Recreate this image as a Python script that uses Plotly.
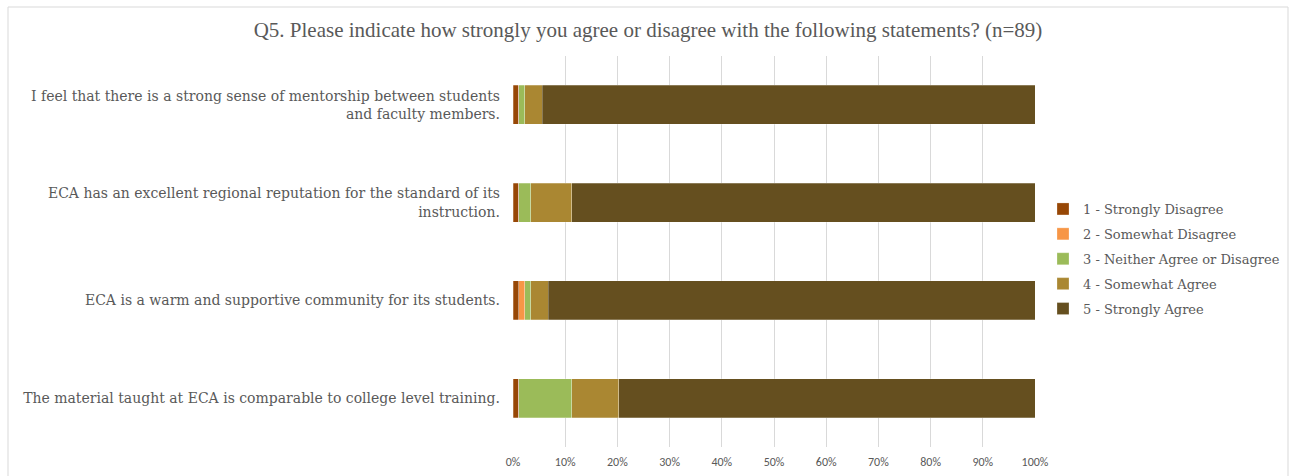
import plotly.graph_objects as go

# Survey responses (counts out of n=89), statements listed top to bottom
statements = [
    "I feel that there is a strong sense of mentorship between students<br>and faculty members.",
    "ECA has an excellent regional reputation for the standard of its<br>instruction.",
    "ECA is a warm and supportive community for its students.",
    "The material taught at ECA is comparable to college level training.",
]
n_resp = 89
strongly_disagree = [1, 1, 1, 1]
somewhat_disagree = [0, 0, 1, 0]
neither = [1, 2, 1, 9]
somewhat_agree = [3, 7, 3, 8]
strongly_agree = [84, 79, 83, 71]

series_names = [
    "1 - Strongly Disagree",
    "2 - Somewhat Disagree",
    "3 - Neither Agree or Disagree",
    "4 - Somewhat Agree",
    "5 - Strongly Agree",
]
series_values = [strongly_disagree, somewhat_disagree, neither, somewhat_agree, strongly_agree]
colors = ["#974706", "#F79646", "#9BBB59", "#AA8732", "#654F1F"]

x_ticks = [i / 10 for i in range(11)]
x_tick_labels = [f"{i * 10}%" for i in range(11)]

W, H = 1291, 476
L, T, B = 513, 56, 29
PW = W - L                 # paper width (right margin 0)
PH = H - T - B             # paper height
plot_w = 522               # width of the bar area

fig = go.Figure()
for name, vals, col in zip(series_names, series_values, colors):
    fig.add_trace(go.Bar(
        y=statements,
        x=[v / n_resp for v in vals],
        name=name,
        legendgroup=name,
        orientation="h",
        marker=dict(color=col, line=dict(color="rgba(255,255,255,0.5)", width=0.5)),
        width=0.40,
    ))

serif = "DejaVu Serif, Georgia, serif"
fig.update_layout(
    barmode="stack",
    width=W,
    height=H,
    paper_bgcolor="white",
    plot_bgcolor="white",
    margin=dict(l=L, r=0, t=T, b=B, autoexpand=False),
    title=dict(
        text="Q5. Please indicate how strongly you agree or disagree with the following statements? (n=89)",
        x=648 / W, xanchor="center", xref="container",
        y=1 - 30 / H, yanchor="middle", yref="container",
        font=dict(family="Liberation Serif, serif", size=21, color="#595959"),
    ),
    xaxis=dict(
        domain=[0, plot_w / PW],
        range=[0, 1],
        tickvals=x_ticks,
        ticktext=x_tick_labels,
        showgrid=True,
        gridcolor="#D9D9D9",
        gridwidth=1,
        zeroline=False,
        showline=False,
        ticks="",
        ticklabelstandoff=6,
        tickfont=dict(family="Carlito, Open Sans, sans-serif", size=12, color="#595959"),
        fixedrange=True,
    ),
    yaxis=dict(
        autorange="reversed",
        showgrid=False,
        ticks="",
        ticklabelstandoff=12,
        tickfont=dict(family=serif, size=14, color="#595959"),
    ),
    legend=dict(
        x=(1043 - L) / PW, xanchor="left",
        y=(H - B - 259) / PH, yanchor="middle",
        traceorder="grouped",
        font=dict(family=serif, size=13, color="#595959"),
        itemwidth=30,
        tracegroupgap=5,
        bgcolor="rgba(0,0,0,0)",
    ),
    shapes=[dict(
        type="rect", xref="paper", yref="paper",
        x0=(8 - L) / PW, x1=(1288 - L) / PW,
        y0=(H - B - 480) / PH, y1=(H - B - 7) / PH,
        line=dict(color="#D9D9D9", width=1),
        fillcolor="rgba(0,0,0,0)",
        layer="below",
    )],
)

fig.write_html("out.html")
